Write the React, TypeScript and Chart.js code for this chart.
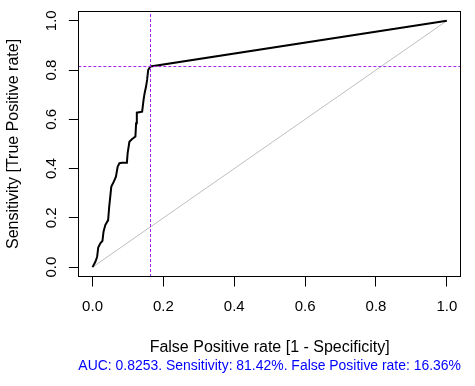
import React, { useEffect, useRef } from "react";
import { Chart, registerables } from "chart.js";

Chart.register(...registerables);

// ROC curve: false positive rate (x) and sensitivity (y)
const fprValues = [
  0, 0.008, 0.013, 0.016, 0.022, 0.028, 0.031, 0.036, 0.044, 0.047, 0.05, 0.053,
  0.06, 0.066, 0.071, 0.076, 0.083, 0.097, 0.099, 0.104, 0.111, 0.121, 0.123,
  0.125, 0.14, 0.144, 0.147, 0.151, 0.154, 0.157, 0.1636, 1,
];
const tprValues = [
  0, 0.022, 0.042, 0.08, 0.097, 0.107, 0.144, 0.171, 0.191, 0.245, 0.286, 0.327,
  0.347, 0.367, 0.408, 0.422, 0.424, 0.424, 0.462, 0.509, 0.519, 0.53, 0.584,
  0.627, 0.631, 0.679, 0.706, 0.733, 0.76, 0.8, 0.8142, 1,
];

// chosen cut-off
const cutoffFpr = 0.1636;
const cutoffSens = 0.8142;

const xTicks = [0, 0.2, 0.4, 0.6, 0.8, 1.0];
const xTickLabels = ["0.0", "0.2", "0.4", "0.6", "0.8", "1.0"];
const yTicks = [0, 0.2, 0.4, 0.6, 0.8, 1.0];
const yTickLabels = ["0.0", "0.2", "0.4", "0.6", "0.8", "1.0"];

const axisMin = -0.04;
const axisMax = 1.04;

const xTitle = "False Positive rate [1 - Specificity]";
const yTitle = "Sensitivity [True Positive rate]";
const subText = "AUC: 0.8253. Sensitivity: 81.42%. False Positive rate: 16.36%";

const FONT = "'Liberation Sans', Arial, Helvetica, sans-serif";

const boxPlugin = {
  id: "plotBox",
  afterDraw(chart: any) {
    const { ctx, chartArea } = chart;
    const l = Math.round(chartArea.left) + 0.5;
    const t = Math.round(chartArea.top) + 0.5;
    const r = Math.round(chartArea.right) - 0.5;
    const b = Math.round(chartArea.bottom) - 0.5;
    ctx.save();
    ctx.strokeStyle = "#000";
    ctx.lineWidth = 1;
    ctx.strokeRect(l, t, r - l, b - t);
    ctx.restore();
  },
};

export default function App() {
  const ref = useRef<HTMLCanvasElement | null>(null);

  useEffect(() => {
    if (!ref.current) return;
    const curve = fprValues.map((x, i) => ({ x, y: tprValues[i] }));
    const chart = new Chart(ref.current, {
      type: "scatter",
      data: {
        datasets: [
          {
            label: "ROC",
            data: curve,
            showLine: true,
            borderColor: "#000",
            borderWidth: 2,
            pointRadius: 0,
            fill: false,
            order: 1,
          },
          {
            label: "diagonal",
            data: [
              { x: 0, y: 0 },
              { x: 1, y: 1 },
            ],
            showLine: true,
            borderColor: "#BEBEBE",
            borderWidth: 1,
            pointRadius: 0,
            order: 2,
          },
          {
            label: "cutoff-x",
            data: [
              { x: cutoffFpr, y: axisMin },
              { x: cutoffFpr, y: axisMax },
            ],
            showLine: true,
            borderColor: "#A020F0",
            borderWidth: 1,
            borderDash: [3, 2],
            pointRadius: 0,
            order: 0,
          },
          {
            label: "cutoff-y",
            data: [
              { x: axisMin, y: cutoffSens },
              { x: axisMax, y: cutoffSens },
            ],
            showLine: true,
            borderColor: "#A020F0",
            borderWidth: 1,
            borderDash: [3, 2],
            pointRadius: 0,
            order: 0,
          },
        ],
      },
      options: {
        animation: false,
        responsive: false,
        layout: { padding: { left: 0, top: 10.9, right: 14, bottom: 11.6 } },
        plugins: {
          legend: { display: false },
          tooltip: { enabled: false },
          title: { display: false },
          subtitle: {
            display: true,
            text: subText,
            position: "bottom",
            fullSize: false,
            color: "#0000FF",
            font: { family: FONT, size: 14, weight: "normal" },
            padding: { top: 0, bottom: 0 },
          },
        },
        scales: {
          x: {
            type: "linear",
            min: axisMin,
            max: axisMax,
            afterBuildTicks: (s: any) => {
              s.ticks = xTicks.map((v) => ({ value: v }));
            },
            afterFit: (s: any) => {
              s.height = 80.6;
              s.paddingLeft = 0;
              s.paddingRight = 0;
            },
            border: { display: false },
            grid: {
              display: true,
              drawOnChartArea: false,
              drawTicks: true,
              tickLength: 9.5,
              color: "#000",
              lineWidth: 1,
            },
            ticks: {
              color: "#000",
              font: { family: FONT, size: 15 },
              padding: 11.6,
              maxRotation: 0,
              minRotation: 0,
              autoSkip: false,
              callback: (v: any) => {
                const i = xTicks.findIndex((t) => Math.abs(t - Number(v)) < 1e-9);
                return i >= 0 ? xTickLabels[i] : "";
              },
            },
            title: {
              display: true,
              text: xTitle,
              color: "#000",
              font: { family: FONT, size: 16 },
              padding: { top: 0, bottom: 0.6 },
            },
          },
          y: {
            type: "linear",
            min: axisMin,
            max: axisMax,
            afterBuildTicks: (s: any) => {
              s.ticks = yTicks.map((v) => ({ value: v }));
            },
            afterFit: (s: any) => {
              s.width = 78.37;
              s.paddingTop = 0;
              s.paddingBottom = 0;
            },
            border: { display: false },
            grid: {
              display: true,
              drawOnChartArea: false,
              drawTicks: true,
              tickLength: 9.5,
              color: "#000",
              lineWidth: 1,
            },
            ticks: {
              color: "#000",
              font: { family: FONT, size: 15 },
              padding: 6.5,
              minRotation: 90,
              maxRotation: 90,
              crossAlign: "center",
              autoSkip: false,
              callback: (v: any) => {
                const i = yTicks.findIndex((t) => Math.abs(t - Number(v)) < 1e-9);
                return i >= 0 ? yTickLabels[i] : "";
              },
            },
            title: {
              display: true,
              text: yTitle,
              color: "#000",
              font: { family: FONT, size: 16 },
              padding: { top: 4.4, bottom: 0 },
            },
          },
        },
      } as any,
      plugins: [boxPlugin],
    });
    return () => chart.destroy();
  }, []);

  return (
    <div style={{ position: "absolute", left: 0, top: 0, width: 475, height: 386, background: "#fff" }}>
      <canvas ref={ref} width={475} height={386} style={{ display: "block" }} />
    </div>
  );
}
